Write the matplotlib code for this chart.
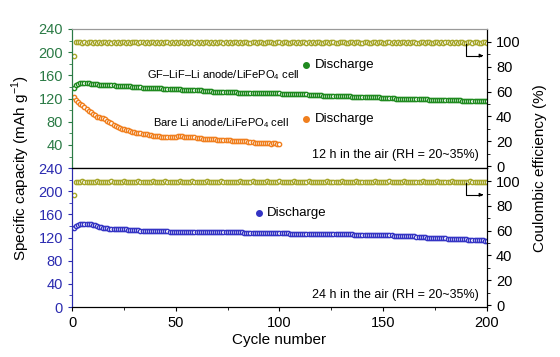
import numpy as np
import matplotlib
matplotlib.use("Agg")
import matplotlib.pyplot as plt

plt.rcParams["font.family"] = ["Liberation Sans", "DejaVu Sans"]
plt.rcParams["mathtext.fontset"] = "custom"
plt.rcParams["mathtext.rm"] = "Liberation Sans"

# discharge capacity (mAh/g) per cycle
gf_12h = [
    139, 143, 145, 146, 146, 146, 146, 146, 145, 145,
    145, 145, 144, 144, 144, 144, 143, 143, 143, 143,
    142, 142, 142, 142, 141, 141, 141, 141, 140, 140,
    140, 140, 140, 139, 139, 139, 139, 139, 138, 138,
    138, 138, 138, 137, 137, 137, 137, 137, 136, 136,
    136, 136, 135, 135, 135, 135, 135, 134, 134, 134,
    134, 134, 133, 133, 133, 133, 133, 132, 132, 132,
    132, 132, 132, 131, 131, 131, 131, 131, 131, 130,
    130, 130, 130, 130, 130, 130, 130, 130, 130, 130,
    130, 130, 130, 129, 129, 129, 129, 129, 129, 129,
    128, 128, 128, 128, 128, 128, 127, 127, 127, 127,
    127, 127, 127, 126, 126, 126, 126, 126, 126, 126,
    125, 125, 125, 125, 125, 125, 125, 124, 124, 124,
    124, 124, 124, 124, 123, 123, 123, 123, 123, 123,
    123, 122, 122, 122, 122, 122, 122, 122, 121, 121,
    121, 121, 121, 121, 121, 120, 120, 120, 120, 120,
    120, 120, 120, 119, 119, 119, 119, 119, 119, 119,
    119, 118, 118, 118, 118, 118, 118, 118, 118, 117,
    117, 117, 117, 117, 117, 117, 117, 116, 116, 116,
    116, 116, 116, 116, 116, 116, 115, 115, 115, 115,
]
bare_12h = [
    123, 118, 114, 111, 108, 105, 102, 99, 96, 94,
    91, 89, 88, 87, 86, 84, 82, 80, 78, 75,
    73, 71, 70, 68, 67, 66, 65, 64, 63, 62,
    61, 60, 60, 59, 58, 58, 57, 57, 56, 56,
    55, 55, 54, 54, 54, 53, 53, 53, 54, 54,
    55, 55, 55, 54, 54, 54, 53, 53, 53, 52,
    52, 52, 51, 51, 51, 50, 50, 50, 50, 49,
    49, 49, 48, 48, 48, 48, 47, 47, 47, 47,
    46, 46, 46, 46, 45, 45, 45, 44, 44, 44,
    44, 43, 43, 43, 43, 42, 43, 43, 42, 42,
]
gf_24h = [
    137, 140, 142, 143, 144, 144, 144, 144, 143, 142,
    141, 140, 139, 138, 137, 136, 136, 135, 135, 135,
    135, 134, 134, 134, 134, 134, 133, 133, 133, 133,
    133, 133, 132, 132, 132, 132, 132, 132, 131, 131,
    131, 131, 131, 131, 131, 131, 130, 130, 130, 130,
    130, 130, 130, 130, 130, 130, 130, 130, 130, 130,
    130, 130, 130, 129, 129, 129, 129, 129, 129, 129,
    129, 129, 129, 129, 129, 129, 129, 129, 129, 129,
    129, 129, 128, 128, 128, 128, 128, 128, 128, 128,
    128, 128, 128, 128, 128, 128, 128, 128, 128, 128,
    128, 128, 128, 128, 127, 127, 127, 127, 127, 127,
    127, 127, 127, 127, 127, 127, 127, 127, 127, 127,
    127, 126, 126, 126, 126, 126, 126, 126, 126, 126,
    126, 126, 126, 126, 126, 125, 125, 125, 125, 125,
    125, 125, 125, 125, 125, 125, 124, 124, 124, 124,
    124, 124, 124, 124, 123, 123, 123, 123, 123, 122,
    122, 122, 122, 122, 122, 121, 121, 121, 121, 121,
    120, 120, 120, 120, 120, 119, 119, 119, 119, 119,
    118, 118, 118, 118, 118, 117, 117, 117, 117, 117,
    116, 116, 116, 116, 115, 115, 115, 115, 114, 114,
]
# coulombic efficiency (%)
ce_12h = [
    88.5, 99.6, 99.8, 99.7, 99.5, 99.6, 99.4, 99.7, 99.8, 99.5,
    99.6, 99.3, 99.7, 99.5, 99.6, 99.8, 99.4, 99.6, 99.5, 99.7,
    99.5, 99.7, 99.4, 99.6, 99.8, 99.5, 99.6, 99.4, 99.7, 99.6,
    99.8, 99.5, 99.6, 99.7, 99.4, 99.6, 99.5, 99.8, 99.6, 99.5,
    99.7, 99.4, 99.6, 99.5, 99.8, 99.6, 99.5, 99.7, 99.4, 99.6,
    99.5, 99.7, 99.6, 99.4, 99.8, 99.5, 99.6, 99.7, 99.5, 99.6,
    99.4, 99.7, 99.5, 99.6, 99.8, 99.5, 99.7, 99.4, 99.6, 99.5,
    99.7, 99.6, 99.5, 99.8, 99.4, 99.6, 99.5, 99.7, 99.6, 99.4,
    99.8, 99.5, 99.6, 99.7, 99.5, 99.4, 99.6, 99.8, 99.5, 99.7,
    99.6, 99.4, 99.5, 99.7, 99.6, 99.8, 99.5, 99.4, 99.6, 99.7,
    99.5, 99.6, 99.8, 99.4, 99.5, 99.7, 99.6, 99.5, 99.8, 99.4,
    99.6, 99.7, 99.5, 99.6, 99.4, 99.8, 99.5, 99.6, 99.7, 99.5,
    99.4, 99.6, 99.8, 99.5, 99.7, 99.6, 99.4, 99.5, 99.7, 99.6,
    99.8, 99.5, 99.4, 99.6, 99.7, 99.5, 99.6, 99.8, 99.4, 99.5,
    99.7, 99.6, 99.5, 99.4, 99.8, 99.6, 99.5, 99.7, 99.6, 99.4,
    99.5, 99.8, 99.6, 99.5, 99.7, 99.4, 99.6, 99.5, 99.8, 99.6,
    99.4, 99.7, 99.5, 99.6, 99.8, 99.5, 99.4, 99.6, 99.7, 99.5,
    99.6, 99.8, 99.4, 99.5, 99.7, 99.6, 99.5, 99.8, 99.4, 99.6,
    99.7, 99.5, 99.6, 99.4, 99.8, 99.5, 99.6, 99.7, 99.5, 99.4,
    99.6, 99.8, 99.5, 99.7, 99.6, 99.4, 99.5, 99.7, 99.6, 99.5,
]
ce_24h = [
    89.0, 99.5, 99.7, 99.6, 99.8, 99.4, 99.6, 99.5, 99.7, 99.6,
    99.4, 99.8, 99.5, 99.6, 99.7, 99.5, 99.4, 99.6, 99.8, 99.5,
    99.6, 99.7, 99.5, 99.4, 99.8, 99.6, 99.5, 99.7, 99.6, 99.4,
    99.5, 99.8, 99.6, 99.5, 99.7, 99.4, 99.6, 99.5, 99.8, 99.6,
    99.4, 99.7, 99.5, 99.6, 99.8, 99.5, 99.4, 99.6, 99.7, 99.5,
    99.6, 99.8, 99.4, 99.5, 99.7, 99.6, 99.5, 99.8, 99.4, 99.6,
    99.7, 99.5, 99.6, 99.4, 99.8, 99.5, 99.6, 99.7, 99.5, 99.4,
    99.6, 99.8, 99.5, 99.7, 99.6, 99.4, 99.5, 99.7, 99.6, 99.5,
    99.8, 99.4, 99.6, 99.5, 99.7, 99.6, 99.8, 99.5, 99.4, 99.6,
    99.7, 99.5, 99.6, 99.8, 99.4, 99.5, 99.7, 99.6, 99.5, 99.8,
    99.4, 99.6, 99.7, 99.5, 99.6, 99.4, 99.8, 99.5, 99.6, 99.7,
    99.5, 99.4, 99.6, 99.8, 99.5, 99.7, 99.6, 99.4, 99.5, 99.7,
    99.6, 99.5, 99.8, 99.4, 99.6, 99.7, 99.5, 99.6, 99.4, 99.8,
    99.5, 99.6, 99.7, 99.5, 99.4, 99.6, 99.8, 99.5, 99.7, 99.6,
    99.4, 99.5, 99.7, 99.6, 99.5, 99.8, 99.4, 99.6, 99.5, 99.7,
    99.6, 99.4, 99.8, 99.5, 99.6, 99.7, 99.5, 99.4, 99.6, 99.8,
    99.5, 99.7, 99.6, 99.4, 99.5, 99.7, 99.6, 99.5, 99.8, 99.4,
    99.6, 99.7, 99.5, 99.6, 99.4, 99.8, 99.5, 99.6, 99.7, 99.5,
    99.4, 99.6, 99.8, 99.5, 99.7, 99.6, 99.4, 99.5, 99.7, 99.6,
    99.5, 99.8, 99.4, 99.6, 99.5, 99.7, 99.6, 99.5, 99.4, 99.6,
]

cyc200 = np.arange(1, len(gf_12h) + 1)
cyc100 = np.arange(1, len(bare_12h) + 1)

GREEN = "#1f8a1f"
ORANGE = "#f07f1e"
BLUE = "#3434c4"
OLIVE = "#a6a62a"
GREEN_TXT = "#2a7a45"
BLUE_TXT = "#2b2bb0"

fig = plt.figure(figsize=(5.6, 3.57), dpi=100)
L, W = 0.1286, 0.741
ax_top = fig.add_axes([L, 0.529, W, 0.390])
ax_bot = fig.add_axes([L, 0.140, W, 0.389], sharex=ax_top)
rt_top = ax_top.twinx()
rt_bot = ax_bot.twinx()

mk = dict(marker="o", linestyle="none", markersize=3.1, markerfacecolor="white",
          markeredgewidth=1.0)

ax_top.plot(cyc200, gf_12h, color=GREEN, markeredgecolor=GREEN, **mk)
ax_top.plot(cyc100, bare_12h, color=ORANGE, markeredgecolor=ORANGE, **mk)
rt_top.plot(cyc200, ce_12h, color=OLIVE, markeredgecolor=OLIVE, **mk)
ax_bot.plot(cyc200, gf_24h, color=BLUE, markeredgecolor=BLUE, **mk)
rt_bot.plot(cyc200, ce_24h, color=OLIVE, markeredgecolor=OLIVE, **mk)

for ax in (ax_top, ax_bot):
    ax.set_xlim(0, 200)
    ax.set_ylim(0, 240)
    ax.set_xticks([0, 50, 100, 150, 200])
    ax.set_xticks(np.arange(0, 201, 25), minor=True)
    ax.tick_params(axis="both", which="major", direction="out", length=3, labelsize=10.5)
    ax.tick_params(axis="both", which="minor", direction="out", length=2)
    ax.set_yticks(np.arange(0, 241, 20), minor=True)

ax_top.set_yticks([40, 80, 120, 160, 200, 240])
ax_bot.set_yticks([0, 40, 80, 120, 160, 200, 240])
ax_top.tick_params(axis="x", which="both", labelbottom=False, length=0)
ax_top.tick_params(axis="y", colors=GREEN_TXT, which="both")
ax_bot.tick_params(axis="y", colors=BLUE_TXT, which="both")
ax_top.spines["left"].set_color(GREEN_TXT)
ax_bot.spines["left"].set_color(BLUE_TXT)
ax_top.spines["top"].set_color("#999999")
rt_top.spines["top"].set_color("#999999")
rt_top.spines["left"].set_color(GREEN_TXT)
rt_bot.spines["left"].set_color(BLUE_TXT)

for rt in (rt_top, rt_bot):
    rt.set_ylim(-1.6, 110.5)
    rt.set_yticks([0, 20, 40, 60, 80, 100])
    rt.set_yticks(np.arange(0, 101, 10), minor=True)
    rt.tick_params(axis="y", which="major", direction="out", length=3, labelsize=10.5)
    rt.tick_params(axis="y", which="minor", direction="out", length=2)
    # arrow pointing to the right axis
    rt.plot([190, 190, 197], [98.5, 89, 89], color="black", lw=0.8)
    rt.annotate("", xy=(199.5, 89), xytext=(196, 89),
                arrowprops=dict(arrowstyle="-|>", color="black", lw=0.8,
                                mutation_scale=5))

# annotations
ax_top.text(36, 160, "GF\u2013LiF\u2013Li anode/LiFePO$_4$ cell", fontsize=8, va="center")
ax_top.plot([113], [177], "o", color=GREEN, markersize=4)
ax_top.text(117, 177, "Discharge", fontsize=9.5, va="center")
ax_top.text(39, 77, "Bare Li anode/LiFePO$_4$ cell", fontsize=8, va="center")
ax_top.plot([113], [85], "o", color=ORANGE, markersize=4)
ax_top.text(117, 85, "Discharge", fontsize=9.5, va="center")
ax_top.text(196, 23, "12 h in the air (RH = 20~35%)", fontsize=9, ha="right", va="center")

ax_bot.plot([90], [162], "o", color=BLUE, markersize=4)
ax_bot.text(94, 162, "Discharge", fontsize=9.5, va="center")
ax_bot.text(196, 21, "24 h in the air (RH = 20~35%)", fontsize=9, ha="right", va="center")

ax_bot.set_xlabel("Cycle number", fontsize=11, labelpad=2)
fig.text(0.038, 0.53, "Specific capacity (mAh g$^{-1}$)", rotation=90, fontsize=11,
         ha="center", va="center")
fig.text(0.965, 0.53, "Coulombic efficiency (%)", rotation=90, fontsize=11,
         ha="center", va="center")

fig.savefig("out.png", dpi=100)
